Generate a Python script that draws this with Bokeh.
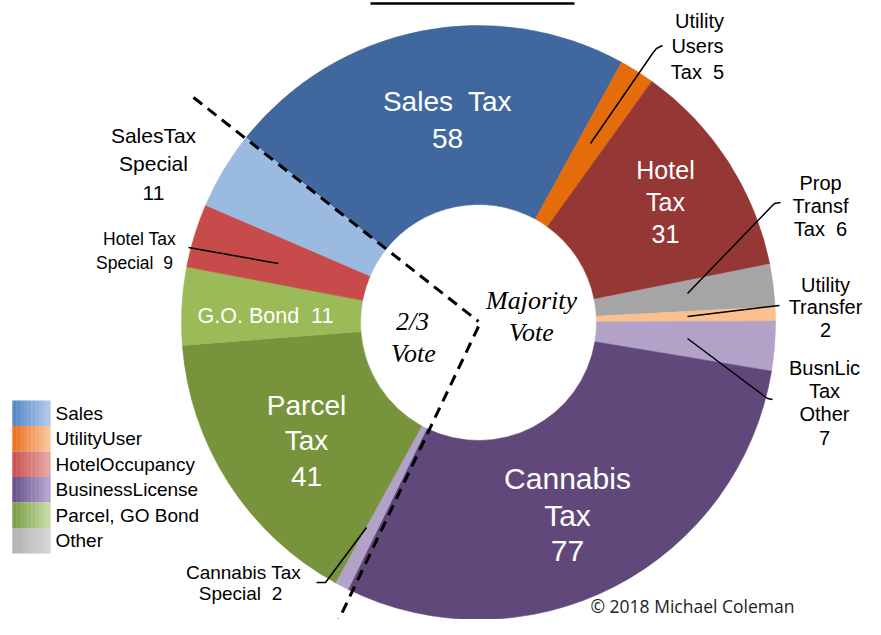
import numpy as np
from bokeh.plotting import figure
from bokeh.models import ColumnDataSource, Range1d
from bokeh.core.properties import value
from bokeh.embed import file_html
from bokeh.resources import INLINE

# ---------------- data ----------------
slice_names = ["Sales Tax", "Utility Users Tax", "Hotel Tax", "Prop Transf Tax",
               "Utility Transfer", "BusnLic Tax Other", "Cannabis Tax",
               "Cannabis Tax Special", "Parcel Tax", "G.O. Bond",
               "Hotel Tax Special", "SalesTax Special"]
slice_values = [58, 5, 31, 6, 2, 7, 77, 2, 41, 11, 9, 11]
slice_colors = ["#41689E", "#E46C0A", "#953735", "#A5A5A5",
                "#FAC090", "#B3A2C7", "#60497A",
                "#B3A2C7", "#77933C", "#9BBB59",
                "#C84B4B", "#9BBAE0"]

legend_labels = ["Sales", "UtilityUser", "HotelOccupancy", "BusinessLicense",
                 "Parcel, GO Bond", "Other"]
legend_left = ["#5A8AC8", "#EC7424", "#CC5656", "#6A558E", "#7FA24A", "#B4B4B4"]
legend_right = ["#AFC9EA", "#FAC69C", "#E6A6A6", "#B6A6CF", "#C6DBA6", "#D6D6D6"]

W, H = 865, 619
NB = "\u00a0"


def Y(sy):
    return H - sy


p = figure(width=W, height=H, output_backend="svg", toolbar_location=None,
           x_range=Range1d(0, W), y_range=Range1d(0, H),
           min_border=0, background_fill_color="white")
p.axis.visible = False
p.grid.visible = False
p.outline_line_color = None

# ---------------- donut ----------------
cx, cy = 478, Y(322)
R_out, R_in = 297, 118
start_cw = -51.5  # degrees clockwise from 12 o'clock
total = sum(slice_values)
cum = np.concatenate([[0], np.cumsum(slice_values)])
th1 = start_cw + 360.0 * cum[:-1] / total
th2 = start_cw + 360.0 * cum[1:] / total
src = ColumnDataSource(dict(
    name=slice_names, v=slice_values, color=slice_colors,
    start=np.radians(90 - th2), end=np.radians(90 - th1),
))
p.annular_wedge(x=cx, y=cy, inner_radius=R_in, outer_radius=R_out,
                start_angle="start", end_angle="end", source=src,
                fill_color="color", line_color="color", line_width=0.6)

# ---------------- dashed vote dividers ----------------
p.line([193, 478], [Y(97), Y(321)], line_color="black", line_width=3,
       line_dash="11 7")
p.line([478, 326], [Y(326), Y(645)], line_color="black", line_width=3,
       line_dash="11 7")

# top rule (cut-off title underline)
p.line([370, 574], [Y(3), Y(3)], line_color="black", line_width=2.5)

SANS = value("Liberation Sans")
SERIF = value("Liberation Serif")


def txt(x, sy, s, size, color="black", font=SANS, style="normal", align="center"):
    p.text(x=[x], y=[Y(sy)], text=[s], text_color=color, text_font=font,
           text_font_size=f"{size}px", text_font_style=style,
           text_align=align, text_baseline="middle")


# inside labels (white)
txt(447, 101, "Sales" + NB + " Tax", 28, "white")
txt(447, 138, str(slice_values[0]), 28, "white")
txt(665, 169, "Hotel", 25, "white")
txt(665, 201, "Tax", 25, "white")
txt(665, 233, str(slice_values[2]), 25, "white")
txt(567, 478, "Cannabis", 30, "white")
txt(567, 515, "Tax", 30, "white")
txt(567, 550, str(slice_values[6]), 30, "white")
txt(306, 405, "Parcel", 28, "white")
txt(306, 440, "Tax", 28, "white")
txt(306, 476, str(slice_values[8]), 28, "white")
txt(265, 315, "G.O. Bond" + NB + " " + str(slice_values[9]), 21.5, "white")

# outside labels (black)
txt(699, 20, "Utility", 20)
txt(697, 45, "Users", 20)
txt(697, 71, "Tax" + NB + " " + str(slice_values[1]), 20)
txt(820, 182, "Prop", 20)
txt(820, 205, "Transf", 20)
txt(820, 228, "Tax" + NB + " " + str(slice_values[3]), 20)
txt(825, 284, "Utility", 20)
txt(825, 306, "Transfer", 20)
txt(825, 329, str(slice_values[4]), 20)
txt(824, 367, "BusnLic", 20)
txt(824, 390, "Tax", 20)
txt(824, 413, "Other", 20)
txt(824, 437, str(slice_values[5]), 20)
txt(153, 135, "SalesTax", 21)
txt(153, 163, "Special", 21)
txt(153, 192, str(slice_values[11]), 21)
txt(139, 238, "Hotel Tax", 17.5)
txt(134, 262, "Special" + NB + " " + str(slice_values[10]), 17.5)
txt(243, 572, "Cannabis Tax", 19)
txt(240, 593, "Special" + NB + " " + str(slice_values[7]), 19)

# vote labels
txt(412, 321, "2/3", 26, font=SERIF, style="italic")
txt(413, 353, "Vote", 26, font=SERIF, style="italic")
txt(531, 300, "Majority", 26, font=SERIF, style="italic")
txt(531, 332, "Vote", 26, font=SERIF, style="italic")

# copyright
txt(590, 605, "\u00a9 2018 Michael Coleman", 17.5, "#222222", font=value("Open Sans"), align="left")

# ---------------- leader lines ----------------
leaders = [
    ([590, 652, 656, 662], [143, 53, 48, 45]),
    ([687, 770, 774, 780], [293, 207, 203, 202]),
    ([687, 779], [316, 305]),
    ([687, 767, 772], [338, 398, 399]),
    ([188, 278], [247, 263]),
    ([316, 325, 366], [582, 582, 527]),
]
for xs, ys in leaders:
    p.line(xs, [Y(v) for v in ys], line_color="black", line_width=1.5)

# ---------------- legend ----------------
row_h = 25.5
y0 = 400
nstrip = 10
bx0, bx1 = 12, 50
for i, lab in enumerate(legend_labels):
    top = y0 + i * row_h
    c0 = np.array([int(legend_left[i][k:k + 2], 16) for k in (1, 3, 5)])
    c1 = np.array([int(legend_right[i][k:k + 2], 16) for k in (1, 3, 5)])
    sw = (bx1 - bx0) / nstrip
    xs, cols = [], []
    for k in range(nstrip):
        t = k / (nstrip - 1)
        c = (c0 * (1 - t) + c1 * t).astype(int)
        cols.append("#%02x%02x%02x" % tuple(c))
        xs.append(bx0 + sw * (k + 0.5))
    p.rect(x=xs, y=[Y(top + row_h / 2)] * nstrip, width=sw + 0.4, height=row_h,
           fill_color=cols, line_color=None)
    txt(55, top + row_h / 2, lab, 19, align="left")

open("out.html", "w").write(file_html(p, INLINE))
